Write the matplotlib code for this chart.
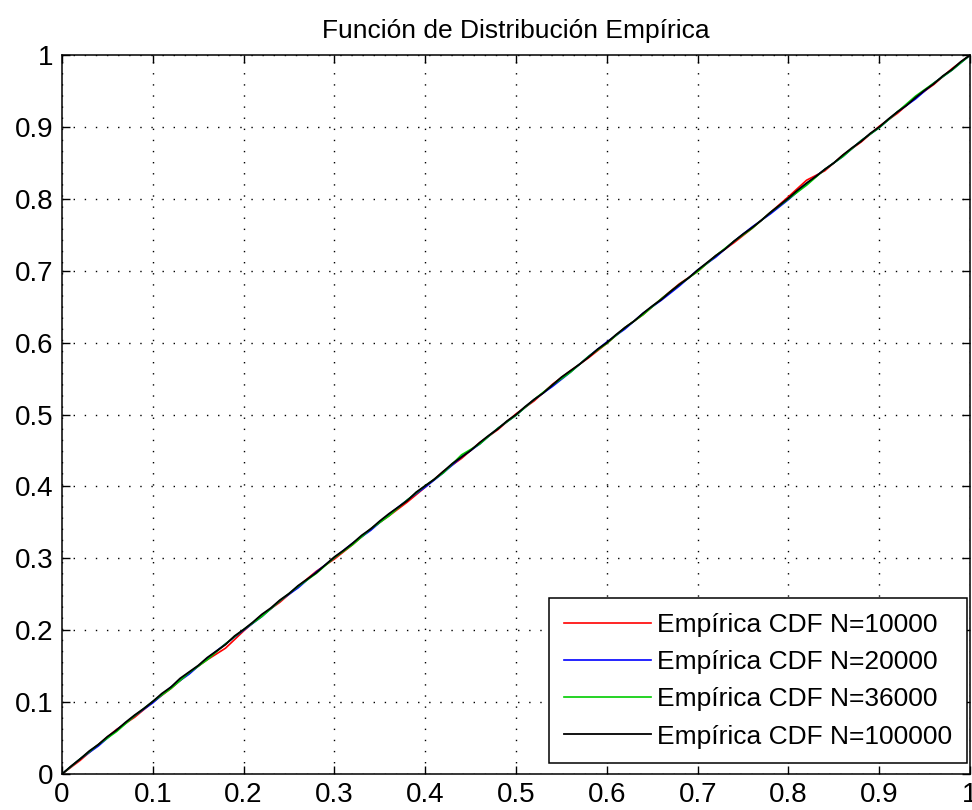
import matplotlib
matplotlib.use("Agg")
import matplotlib.pyplot as plt

plt.rcParams['font.family'] = ['Liberation Sans', 'DejaVu Sans']

# empirical CDF values for each sample size
x_fine = [0.00, 0.01, 0.02, 0.03, 0.04, 0.05, 0.06, 0.07, 0.08, 0.09,
          0.10, 0.11, 0.12, 0.13, 0.14, 0.15, 0.16, 0.17, 0.18, 0.19,
          0.20, 0.21, 0.22, 0.23, 0.24, 0.25, 0.26, 0.27, 0.28, 0.29,
          0.30, 0.31, 0.32, 0.33, 0.34, 0.35, 0.36, 0.37, 0.38, 0.39,
          0.40, 0.41, 0.42, 0.43, 0.44, 0.45, 0.46, 0.47, 0.48, 0.49,
          0.50, 0.51, 0.52, 0.53, 0.54, 0.55, 0.56, 0.57, 0.58, 0.59,
          0.60, 0.61, 0.62, 0.63, 0.64, 0.65, 0.66, 0.67, 0.68, 0.69,
          0.70, 0.71, 0.72, 0.73, 0.74, 0.75, 0.76, 0.77, 0.78, 0.79,
          0.80, 0.81, 0.82, 0.83, 0.84, 0.85, 0.86, 0.87, 0.88, 0.89,
          0.90, 0.91, 0.92, 0.93, 0.94, 0.95, 0.96, 0.97, 0.98, 0.99,
          1.00]
x_coarse = [0.00, 0.02, 0.04, 0.06, 0.08, 0.10, 0.12, 0.14, 0.16, 0.18,
            0.20, 0.22, 0.24, 0.26, 0.28, 0.30, 0.32, 0.34, 0.36, 0.38,
            0.40, 0.42, 0.44, 0.46, 0.48, 0.50, 0.52, 0.54, 0.56, 0.58,
            0.60, 0.62, 0.64, 0.66, 0.68, 0.70, 0.72, 0.74, 0.76, 0.78,
            0.80, 0.82, 0.84, 0.86, 0.88, 0.90, 0.92, 0.94, 0.96, 0.98,
            1.00]

cdf_10000 = [0.000, 0.019, 0.041, 0.062, 0.079, 0.100, 0.119, 0.141, 0.159, 0.175,
             0.199, 0.221, 0.239, 0.261, 0.282, 0.299, 0.319, 0.341, 0.359, 0.378,
             0.399, 0.421, 0.439, 0.461, 0.479, 0.501, 0.519, 0.542, 0.561, 0.579,
             0.599, 0.621, 0.639, 0.661, 0.682, 0.699, 0.721, 0.739, 0.759, 0.781,
             0.803, 0.826, 0.839, 0.861, 0.879, 0.901, 0.919, 0.941, 0.959, 0.981,
             1.000]
cdf_20000 = [0.000, 0.021, 0.039, 0.061, 0.081, 0.099, 0.121, 0.139, 0.161, 0.181,
             0.200, 0.219, 0.241, 0.259, 0.281, 0.301, 0.321, 0.339, 0.361, 0.381,
             0.399, 0.419, 0.441, 0.459, 0.481, 0.499, 0.521, 0.539, 0.559, 0.581,
             0.601, 0.619, 0.641, 0.659, 0.679, 0.701, 0.719, 0.741, 0.761, 0.779,
             0.799, 0.821, 0.841, 0.859, 0.881, 0.899, 0.921, 0.939, 0.961, 0.979,
             1.000]
cdf_36000 = [0.000, 0.021, 0.041, 0.059, 0.081, 0.101, 0.119, 0.141, 0.159, 0.181,
             0.201, 0.219, 0.241, 0.261, 0.279, 0.301, 0.319, 0.341, 0.359, 0.381,
             0.401, 0.419, 0.444, 0.459, 0.481, 0.499, 0.521, 0.541, 0.559, 0.581,
             0.599, 0.621, 0.639, 0.661, 0.681, 0.699, 0.721, 0.741, 0.759, 0.781,
             0.800, 0.819, 0.841, 0.859, 0.881, 0.899, 0.921, 0.943, 0.961, 0.979,
             1.000]
cdf_100000 = [0.000, 0.011, 0.021, 0.032, 0.041, 0.052, 0.061, 0.072, 0.082, 0.091,
              0.101, 0.112, 0.121, 0.133, 0.142, 0.151, 0.162, 0.171, 0.180, 0.192,
              0.201, 0.211, 0.222, 0.231, 0.242, 0.251, 0.262, 0.271, 0.280, 0.291,
              0.302, 0.311, 0.321, 0.332, 0.341, 0.352, 0.362, 0.371, 0.380, 0.392,
              0.401, 0.410, 0.421, 0.432, 0.441, 0.450, 0.461, 0.471, 0.480, 0.491,
              0.500, 0.511, 0.521, 0.530, 0.541, 0.552, 0.561, 0.570, 0.580, 0.591,
              0.600, 0.611, 0.621, 0.630, 0.641, 0.651, 0.660, 0.671, 0.681, 0.690,
              0.701, 0.711, 0.721, 0.730, 0.741, 0.751, 0.760, 0.770, 0.781, 0.791,
              0.801, 0.812, 0.822, 0.831, 0.841, 0.850, 0.861, 0.871, 0.880, 0.891,
              0.900, 0.911, 0.921, 0.930, 0.941, 0.951, 0.960, 0.971, 0.980, 0.991,
              1.000]

ticks = [0, 0.1, 0.2, 0.3, 0.4, 0.5, 0.6, 0.7, 0.8, 0.9, 1]
tick_labels = ['0', '0.1', '0.2', '0.3', '0.4', '0.5', '0.6', '0.7', '0.8', '0.9', '1']

fig = plt.figure(figsize=(9.72, 8.10), dpi=100)
ax = fig.add_axes([0.0638, 0.0444, 0.9342, 0.8876])

ax.plot(x_coarse, cdf_10000, color='red', lw=1.2, label='Empírica CDF N=10000')
ax.plot(x_coarse, cdf_20000, color='blue', lw=1.2, label='Empírica CDF N=20000')
ax.plot(x_coarse, cdf_36000, color='#00cc00', lw=1.2, label='Empírica CDF N=36000')
ax.plot(x_fine, cdf_100000, color='black', lw=1.3, label='Empírica CDF N=100000')

ax.set_xlim(0, 1)
ax.set_ylim(0, 1)
ax.set_xticks(ticks)
ax.set_xticklabels(tick_labels)
ax.set_yticks(ticks)
ax.set_yticklabels(tick_labels)
ax.tick_params(direction='in', length=6, width=1, top=True, right=True,
               labelsize=20, pad=6)
ax.grid(True, color='black', linestyle=(0, (1, 7)), linewidth=1)
for s in ax.spines.values():
    s.set_linewidth(1.1)

ax.set_title('Función de Distribución Empírica', fontsize=19, pad=12)

leg = ax.legend(loc='lower right', bbox_to_anchor=(0.9967, 0.0153),
                fontsize=19, fancybox=False, framealpha=1, edgecolor='black',
                handlelength=3.3, handletextpad=0.25, borderpad=0.55,
                labelspacing=0.5, borderaxespad=0)
leg.get_frame().set_linewidth(1.1)

fig.savefig('out.png', dpi=100)
